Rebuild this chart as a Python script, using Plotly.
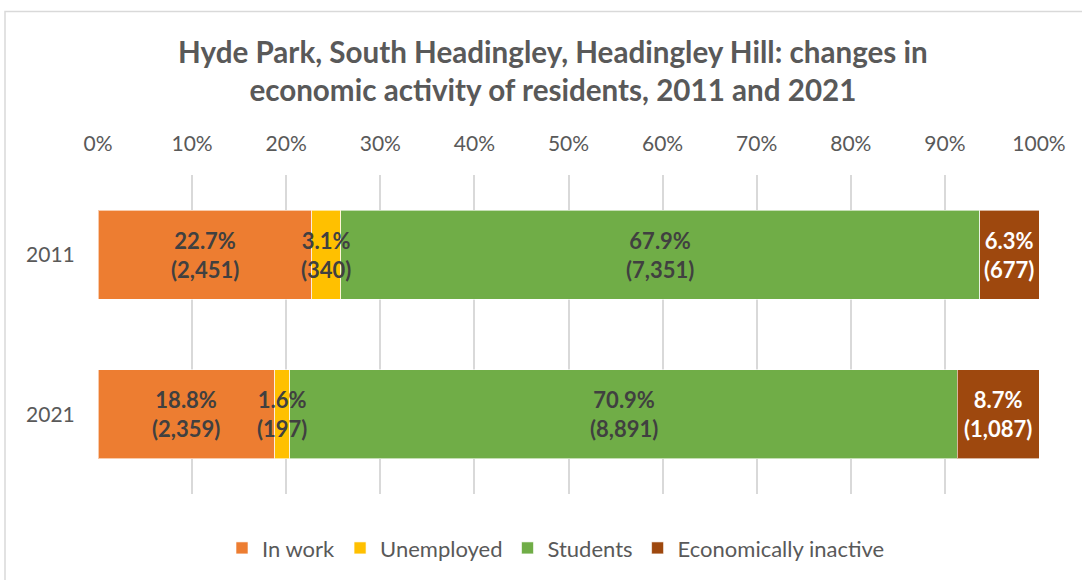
import plotly.graph_objects as go

# Economic activity of residents, by census year
years = ["2011", "2021"]
categories = ["In work", "Unemployed", "Students", "Economically inactive"]
pct_2011 = [22.7, 3.1, 67.9, 6.3]
pct_2021 = [18.8, 1.6, 70.9, 8.7]
count_2011 = [2451, 340, 7351, 677]
count_2021 = [2359, 197, 8891, 1087]

colors = ["#ED7D31", "#FFC000", "#70AD47", "#9E480E"]
label_colors = ["#404040", "#404040", "#404040", "#FFFFFF"]
FONT = "Lato"

pct = [pct_2011, pct_2021]
counts = [count_2011, count_2021]
rows = list(range(len(years)))

fig = go.Figure()
for i, cat in enumerate(categories):
    fig.add_trace(go.Bar(
        name=cat,
        y=rows,
        x=[pct[r][i] for r in rows],
        orientation="h",
        marker=dict(color=colors[i], line=dict(color="rgba(255,255,255,0.6)", width=1)),
        width=0.56,
        hoverinfo="skip",
    ))

# value labels centred on each segment
annotations = []
for r in rows:
    start = 0.0
    for i in range(len(categories)):
        v = pct[r][i]
        annotations.append(dict(
            x=start + v / 2, y=r, xref="x", yref="y",
            text=f"<b>{v:.1f}%<br>({counts[r][i]:,})</b>",
            showarrow=False,
            font=dict(family=FONT, size=22, color=label_colors[i]),
            align="center",
        ))
        start += v

fig.update_layout(
    width=1082, height=580,
    margin=dict(l=98, r=43, t=175, b=85),
    paper_bgcolor="white", plot_bgcolor="white",
    barmode="stack",
    title=dict(
        text="<b>Hyde Park, South Headingley, Headingley Hill: changes in<br>economic activity of residents, 2011 and 2021</b>",
        x=0.511, xanchor="center", xref="container",
        y=1 - 63 / 580, yanchor="middle", yref="container",
        font=dict(family=FONT, size=29.6, color="#595959"),
    ),
    font=dict(family=FONT, color="#595959"),
    xaxis=dict(
        side="top", range=[0, 100], dtick=10, ticksuffix="%",
        showgrid=True, gridcolor="#D9D9D9", gridwidth=1.5,
        zeroline=False, showline=False,
        ticks="outside", ticklen=15, tickcolor="rgba(0,0,0,0)",
        tickfont=dict(family=FONT, size=21, color="#595959"),
        fixedrange=True,
    ),
    yaxis=dict(
        range=[1.5, -0.5],
        tickvals=rows, ticktext=years,
        showgrid=False, zeroline=False, showline=False,
        ticks="outside", ticklen=18, tickcolor="rgba(0,0,0,0)",
        tickfont=dict(family=FONT, size=21, color="#595959"),
        fixedrange=True,
    ),
    legend=dict(
        orientation="h", traceorder="normal",
        x=(556 - 98) / 941, xanchor="center", y=-0.166, yanchor="middle",
        font=dict(family=FONT, size=22, color="#595959"),
        itemwidth=30,
    ),
    annotations=annotations,
    shapes=[dict(
        type="rect", xref="paper", yref="paper",
        x0=(5 - 98) / 941, x1=(1090 - 98) / 941,
        y0=(495 - 590) / 320, y1=(495 - 11) / 320,
        line=dict(color="#D9D9D9", width=1.5), fillcolor="rgba(0,0,0,0)",
        layer="below",
    )],
)

fig.write_html("out.html")
